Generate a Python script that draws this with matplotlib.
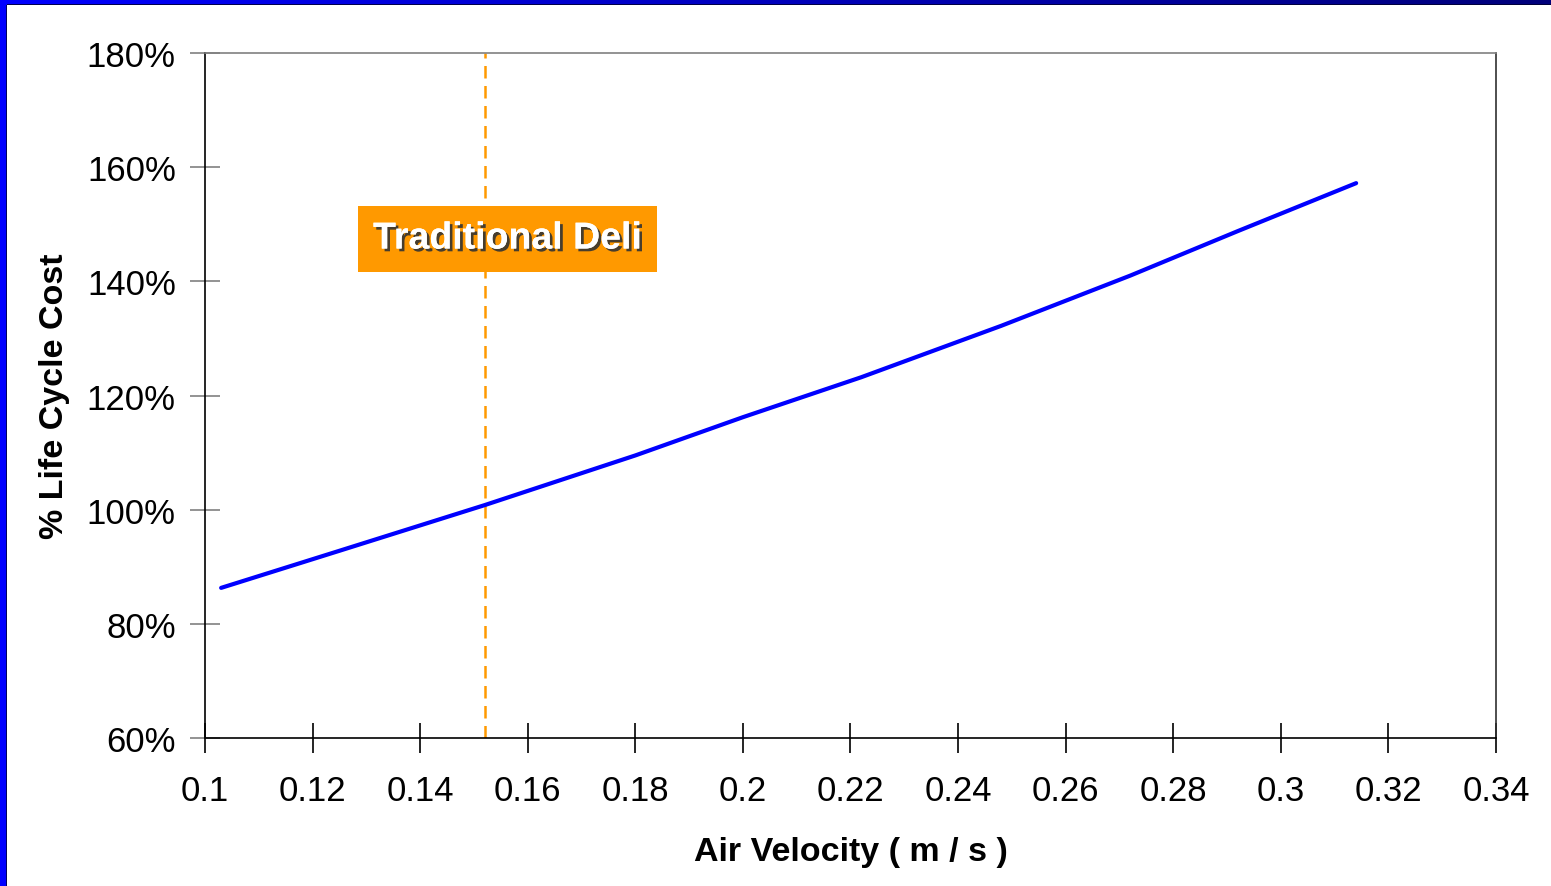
import numpy as np
import matplotlib
matplotlib.use("Agg")
import matplotlib.pyplot as plt
from matplotlib.ticker import FuncFormatter
import matplotlib.patheffects as pe

# Life cycle cost relative to the traditional deli case, vs. air velocity
air_velocity = [0.103, 0.125, 0.152, 0.18, 0.2, 0.222, 0.248, 0.272, 0.292, 0.314]
life_cycle_cost = [86.3, 92.8, 100.8, 109.5, 116.2, 123.2, 132.2, 141.0, 148.8, 157.2]

deli_velocity = 0.152
deli_label = "Traditional Deli"

x_ticks = [0.1, 0.12, 0.14, 0.16, 0.18, 0.2, 0.22, 0.24, 0.26, 0.28, 0.3, 0.32, 0.34]
x_tick_labels = ["0.1", "0.12", "0.14", "0.16", "0.18", "0.2", "0.22", "0.24",
                 "0.26", "0.28", "0.3", "0.32", "0.34"]
y_ticks = [60, 80, 100, 120, 140, 160, 180]

plt.rcParams['font.family'] = ['Liberation Sans', 'DejaVu Sans']

W, H = 1551, 887
fig = plt.figure(figsize=(W / 100, H / 100), dpi=100)
fig.patch.set_facecolor("white")

ax = fig.add_axes([205 / W, 1 - 739 / H, (1496 - 205) / W, (739 - 54) / H])
ax.plot(air_velocity, life_cycle_cost, color="#0000FF", lw=3.0,
        solid_capstyle="round", solid_joinstyle="round", zorder=3)
ax.axvline(deli_velocity, color="#FF9900", lw=1.8, ls=(0, (5, 3)), zorder=2)

ax.set_xlim(0.1, 0.34)
ax.set_ylim(60, 180)
ax.set_xticks(x_ticks)
ax.set_xticklabels(x_tick_labels)
ax.set_yticks(y_ticks)
ax.yaxis.set_major_formatter(FuncFormatter(lambda v, p: f"{v:.0f}%"))

ax.tick_params(axis="both", direction="inout", length=22, width=1.2,
               labelsize=25, colors="black")
ax.tick_params(axis="x", pad=15)
ax.tick_params(axis="y", pad=10, color="#808080")

ax.spines["left"].set_color("black")
ax.spines["bottom"].set_color("black")
ax.spines["top"].set_color("#808080")
ax.spines["right"].set_color("#303030")
for s in ax.spines.values():
    s.set_linewidth(1.2)

ax.set_xlabel("Air Velocity ( m / s )", fontsize=24.5, fontweight="bold", labelpad=21)
ax.set_ylabel("% Life Cycle Cost", fontsize=24.5, fontweight="bold", labelpad=12)

# Label box for the traditional deli reference line
ax.text(0.1562, 147.5, deli_label, fontsize=27, fontweight="bold", color="white",
        ha="center", va="center", zorder=5,
        bbox=dict(boxstyle="square,pad=0.4", facecolor="#FF9900", edgecolor="none"),
        path_effects=[pe.withSimplePatchShadow(offset=(2, -2), shadow_rgbFace="#333333", alpha=0.9),
                      pe.Normal()])

# Slide frame: blue strip on the left, gradient bar on top
fig.add_artist(plt.Rectangle((0, 0), 7 / W, 1, transform=fig.transFigure,
                             facecolor="#0000FF", edgecolor="none"))
fig.add_artist(plt.Rectangle((6 / W, 0), 1 / W, 1 - 6 / H, transform=fig.transFigure,
                             facecolor="#000060", edgecolor="none"))
top = fig.add_axes([0, 1 - 6 / H, 1, 6 / H])
grad = np.linspace(0, 1, 256)[None, :]
cmap = matplotlib.colors.LinearSegmentedColormap.from_list("frame", ["#0000FF", "#00007A"])
top.imshow(grad, aspect="auto", cmap=cmap, extent=[0, 1, 0, 1])
top.axhline(0.05, color="#000030", lw=1.2)
top.set_axis_off()

fig.savefig("out.png", dpi=100, facecolor="white")
